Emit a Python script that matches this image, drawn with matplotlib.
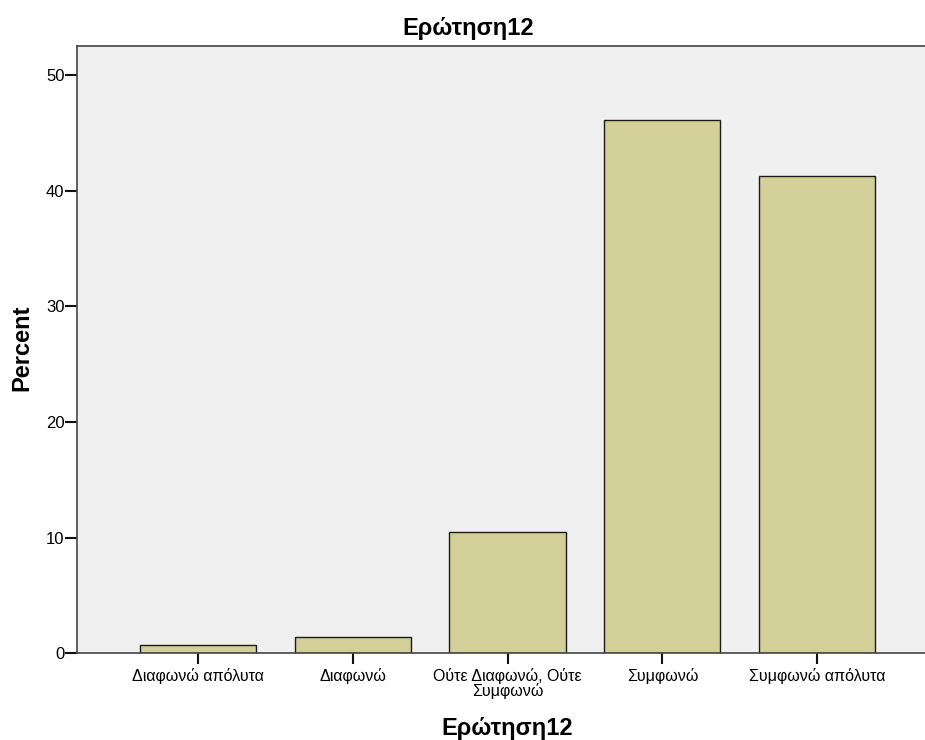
import matplotlib
matplotlib.use("Agg")
import matplotlib.pyplot as plt

categories = ["Διαφωνώ απόλυτα", "Διαφωνώ", "Ούτε Διαφωνώ, Ούτε\nΣυμφωνώ", "Συμφωνώ", "Συμφωνώ απόλυτα"]
percent = [0.7, 1.4, 10.5, 46.1, 41.3]
yticks = [0, 10, 20, 30, 40, 50]
title = "Ερώτηση12"
xlabel = "Ερώτηση12"
ylabel = "Percent"

plt.rcParams['font.family'] = ['Liberation Sans', 'DejaVu Sans']

fig = plt.figure(figsize=(9.25, 7.4), dpi=100)
ax = fig.add_axes([77/925, 86.7/740, 861/925, 607.3/740])
ax.set_facecolor('#F0F0F0')
x = list(range(len(categories)))
ax.bar(x, percent, width=0.75, color='#D3CF98', edgecolor='#1a1a1a', linewidth=1.0, zorder=2)
ax.set_xlim(-0.78, 4.78)
ax.set_ylim(0, 52.5)
ax.set_yticks(yticks)
ax.set_xticks(x)
ax.set_xticklabels(categories, fontsize=11.5, linespacing=0.92)
ax.tick_params(axis='y', labelsize=12, length=8.5, width=1.5, color='#111111', pad=0.5)
ax.tick_params(axis='x', length=8, width=1.5, color='#111111', pad=2.5)
for s in ['left', 'bottom', 'top']:
    ax.spines[s].set_color('#444444')
    ax.spines[s].set_linewidth(1.2)
ax.spines['right'].set_visible(False)

fig.text(468/925, 1 - 35/740, title, ha='center', va='baseline', fontsize=17, fontweight='bold')
fig.text(507/925, 1 - 735/740, xlabel, ha='center', va='baseline', fontsize=17, fontweight='bold')
fig.text(22/925, 1 - 348/740, ylabel, ha='center', va='center', fontsize=17, fontweight='bold', rotation=90)

fig.savefig('out.png', dpi=100)
